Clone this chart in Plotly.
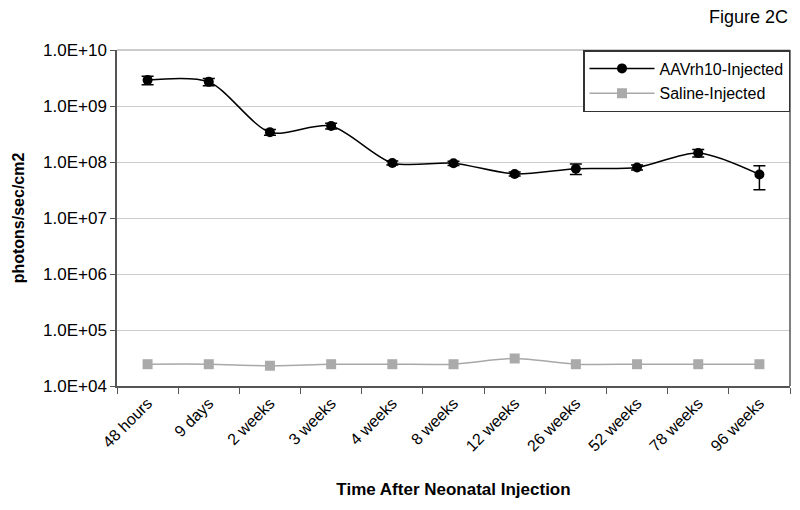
import plotly.graph_objects as go

categories = ["48 hours", "9 days", "2 weeks", "3 weeks", "4 weeks", "8 weeks",
              "12 weeks", "26 weeks", "52 weeks", "78 weeks", "96 weeks"]
aav_values = [2.9e9, 2.7e9, 3.4e8, 4.4e8, 9.6e7, 9.5e7, 6.1e7, 7.6e7, 8.0e7, 1.45e8, 6.0e7]
aav_err_plus = [5e8, 4e8, 4e7, 5e7, 8e6, 8e6, 5e6, 1.6e7, 8e6, 2.2e7, 2.6e7]
aav_err_minus = [5e8, 4e8, 4e7, 5e7, 8e6, 8e6, 5e6, 1.6e7, 8e6, 2.2e7, 2.8e7]
saline_values = [2.45e4, 2.45e4, 2.3e4, 2.45e4, 2.45e4, 2.45e4, 3.1e4, 2.45e4, 2.45e4, 2.45e4, 2.45e4]
ytick_vals = [1e4, 1e5, 1e6, 1e7, 1e8, 1e9, 1e10]
ytick_text = ["1.0E+04", "1.0E+05", "1.0E+06", "1.0E+07", "1.0E+08", "1.0E+09", "1.0E+10"]

font_family = "Liberation Sans, Arial, sans-serif"

fig = go.Figure()
fig.add_trace(go.Scatter(
    x=categories, y=aav_values, name="AAVrh10-Injected", legendgroup="a",
    mode="lines+markers", line=dict(color="black", width=1.5, shape="spline", smoothing=0.8),
    marker=dict(symbol="circle", size=10, color="black"),
    error_y=dict(type="data", symmetric=False, array=aav_err_plus, arrayminus=aav_err_minus,
                 color="black", thickness=1.5, width=6),
))
fig.add_trace(go.Scatter(
    x=categories, y=saline_values, name="Saline-Injected", legendgroup="b",
    mode="lines+markers", line=dict(color="#a8a8a8", width=1.5, shape="spline", smoothing=0.8),
    marker=dict(symbol="square", size=10, color="#aaaaaa"),
))

# page body has an 8px margin, so the figure is sized to fill the remaining window
fig.update_layout(
    width=792, height=502,
    margin=dict(l=109, r=10, t=42, b=124),
    paper_bgcolor="white", plot_bgcolor="white",
    font=dict(family=font_family, size=16, color="black"),
    showlegend=True,
    legend=dict(x=1, y=1, xanchor="right", yanchor="top",
                bordercolor="#333333", borderwidth=1.5, bgcolor="white",
                font=dict(size=16), tracegroupgap=1, itemwidth=65),
    xaxis=dict(
        type="category", showgrid=False, tickson="boundaries", ticks="outside", ticklen=6,
        tickcolor="#555555", showline=True, linecolor="#555555", linewidth=1.5,
        mirror=False, tickangle=-45, tickfont=dict(size=16),
        title=dict(text="<b>Time After Neonatal Injection</b>", font=dict(size=17), standoff=30),
        range=[-0.5, 10.5],
    ),
    yaxis=dict(
        type="log", range=[4, 10], tickvals=ytick_vals, ticktext=ytick_text,
        showgrid=True, gridcolor="#cccccc", gridwidth=1, ticks="outside", ticklen=5,
        tickcolor="#555555", showline=True, linecolor="#555555", linewidth=1.5,
        tickfont=dict(size=17),
        title=dict(text="<b>photons/sec/cm2</b>", font=dict(size=16), standoff=14),
    ),
    annotations=[dict(text="Figure 2C", xref="paper", yref="paper", x=1, y=1.098,
                      xanchor="right", yanchor="middle", xshift=0, showarrow=False,
                      font=dict(size=18))],
)
# right and top border lines of plot area
fig.add_shape(type="line", xref="paper", yref="paper", x0=1, x1=1, y0=0, y1=1,
              line=dict(color="#555555", width=1.5))
fig.add_shape(type="line", xref="paper", yref="paper", x0=0, x1=1, y0=1, y1=1,
              line=dict(color="#999999", width=1))

fig.write_html("out.html")
